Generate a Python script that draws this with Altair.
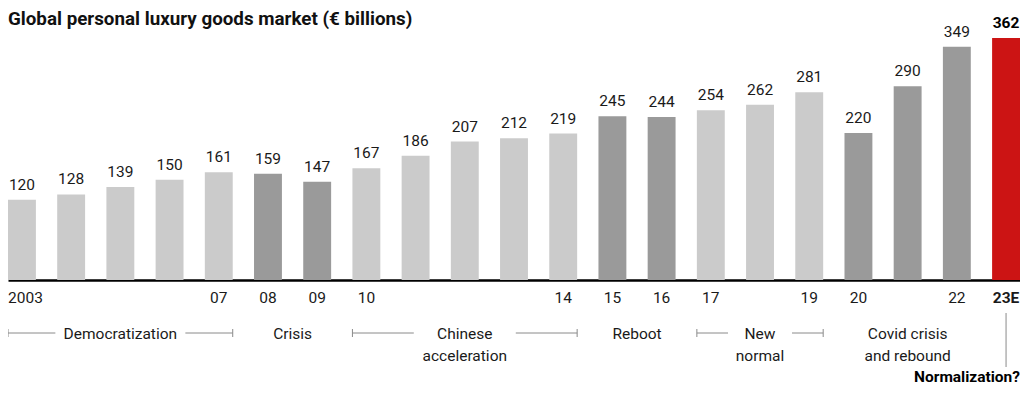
import altair as alt
import pandas as pd

# ---- data ----
years = ["2003", "2004", "2005", "2006", "2007", "2008", "2009", "2010", "2011", "2012",
         "2013", "2014", "2015", "2016", "2017", "2018", "2019", "2020", "2021", "2022", "2023E"]
year_labels = ["2003", "", "", "", "07", "08", "09", "10", "", "", "", "14", "15", "16",
               "17", "", "19", "20", "", "22", "23E"]
values = [120, 128, 139, 150, 161, 159, 147, 167, 186, 207, 212, 219, 245, 244, 254,
          262, 281, 220, 290, 349, 362]
tones = ["light"] * 5 + ["dark"] * 2 + ["light"] * 5 + ["dark"] * 2 + ["light"] * 3 + \
        ["dark"] * 3 + ["estimate"]

periods = ["Democratization", "Crisis", "Chinese\nacceleration", "Reboot", "New\nnormal",
           "Covid crisis\nand rebound"]
period_start = [0, 5, 7, 12, 14, 17]
period_end = [4, 6, 11, 13, 16, 19]
period_bracket = [True, False, True, False, True, False]
period_gap_px = [65, 0, 51, 0, 32, 0]

title_text = "Global personal luxury goods market (€ billions)"
estimate_note = "Normalization?"

# ---- layout / style ----
FONT = "Roboto"
FS = 15.5
W, H = 1012, 242
PI = 0.433
n = len(years)
step = W / (n - PI)
bw = 1 - PI

df = pd.DataFrame({"year": years, "value": values, "tone": tones, "label": year_labels})

label_map = "{" + ",".join(f"'{y}':'{l}'" for y, l in zip(years, year_labels)) + "}"

xband = alt.X("year:N", sort=years,
              scale=alt.Scale(paddingInner=PI, paddingOuter=0),
              axis=alt.Axis(title=None, ticks=False, domainColor="#000", domainWidth=2.5,
                            labelExpr=f"{label_map}[datum.value]", labelAngle=0,
                            labelFont=FONT, labelFontSize=FS, labelColor="#1a1a1a",
                            labelPadding=10,
                            labelAlign=alt.ExprRef(expr="datum.value == '2003' ? 'left' : 'center'"),
                            labelOffset=alt.ExprRef(expr=f"datum.value == '2003' ? {-step * bw / 2:.1f} : 0"),
                            labelFontWeight=alt.ExprRef(expr="datum.value == '2023E' ? 'bold' : 'normal'")))
yq = alt.Y("value:Q", scale=alt.Scale(domain=[0, 362], nice=False, zero=True), axis=None)

bars = alt.Chart(df).mark_bar().encode(
    x=xband, y=yq,
    color=alt.Color("tone:N", scale=alt.Scale(domain=["light", "dark", "estimate"],
                                              range=["#cbcbcb", "#9a9a9a", "#cc1414"]),
                    legend=None))

vlab = alt.Chart(df).transform_filter("datum.tone != 'estimate'").mark_text(
    baseline="alphabetic", dy=-10, font=FONT, fontSize=FS, color="#1a1a1a").encode(
    x=alt.X("year:N", sort=years), y=yq, text="value:Q")
vlab_est = alt.Chart(df).transform_filter("datum.tone == 'estimate'").mark_text(
    baseline="alphabetic", dy=-10, font=FONT, fontSize=FS, fontWeight="bold", color="#000").encode(
    x=alt.X("year:N", sort=years), y=yq, text="value:Q")

# annotation layer on a linear scale aligned with the band scale (1 unit = one step)
xl = alt.Scale(domain=[0, n - PI], nice=False, zero=False)
segs = []
ends = []
texts = []
for name, s, e, br, g in zip(periods, period_start, period_end, period_bracket, period_gap_px):
    left = s
    right = e + bw
    center = (left + right) / 2
    texts.append({"t": name, "x": center})
    if br:
        segs.append({"x": left, "x2": center - g / step})
        segs.append({"x": center + g / step, "x2": right})
        ends.append({"x": left})
        ends.append({"x": right})

seg_df = pd.DataFrame(segs)
end_df = pd.DataFrame(ends)
txt_df = pd.DataFrame(texts)

BR_Y = 295
seg_layer = alt.Chart(seg_df).mark_rule(color="#8a8a8a", strokeWidth=1).encode(
    x=alt.X("x:Q", scale=xl, axis=None), x2="x2:Q", y=alt.value(BR_Y))
end_layer = alt.Chart(end_df).mark_rule(color="#8a8a8a", strokeWidth=1).encode(
    x=alt.X("x:Q", scale=xl, axis=None), y=alt.value(BR_Y - 4), y2=alt.value(BR_Y + 4))
txt_layer = alt.Chart(txt_df).mark_text(
    font=FONT, fontSize=FS, color="#1a1a1a", baseline="alphabetic", lineBreak="\n",
    lineHeight=22).encode(
    x=alt.X("x:Q", scale=xl, axis=None), y=alt.value(301), text="t:N")

est_df = pd.DataFrame({"x": [n - 1 + bw / 2], "xr": [n - PI], "t": [estimate_note]})
est_rule = alt.Chart(est_df).mark_rule(color="#8a8a8a", strokeWidth=1).encode(
    x=alt.X("x:Q", scale=xl, axis=None), y=alt.value(275), y2=alt.value(329))
est_text = alt.Chart(est_df).mark_text(
    font=FONT, fontSize=FS, fontWeight="bold", color="#000", align="right",
    baseline="alphabetic").encode(
    x=alt.X("xr:Q", scale=xl, axis=None), y=alt.value(344), text="t:N")

title_df = pd.DataFrame({"t": [title_text]})
title_layer = alt.Chart(title_df).mark_text(
    font=FONT, fontSize=18.8, fontWeight="bold", color="#111", align="left",
    baseline="alphabetic").encode(
    x=alt.value(0), y=alt.value(-13), text="t:N")

band_layers = alt.layer(bars, vlab, vlab_est)
lin_layers = alt.layer(seg_layer, end_layer, txt_layer, est_rule, est_text, title_layer)

chart = alt.layer(band_layers, lin_layers).resolve_scale(x="independent").properties(
    width=W, height=H,
    autosize=alt.AutoSizeParams(type="none"),
    padding={"left": 0, "top": 30, "right": 0, "bottom": 107},
).configure_view(stroke=None)

chart.save("out.html", embed_options={"renderer": "svg", "actions": False})
